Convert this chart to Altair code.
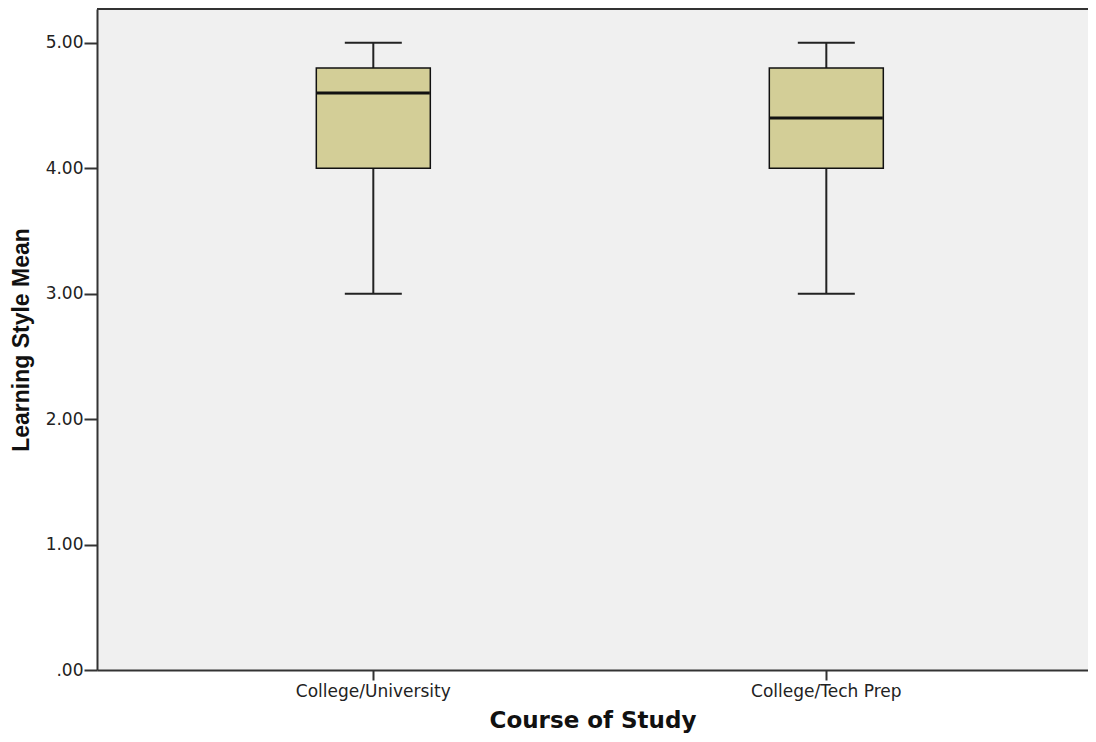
import altair as alt
import pandas as pd

categories = ["College/University", "College/Tech Prep"]
mins = [3.0, 3.0]
q1s = [4.0, 4.0]
medians = [4.6, 4.4]
q3s = [4.8, 4.8]
maxs = [5.0, 5.0]

df = pd.DataFrame({"course": categories, "lo": mins, "q1": q1s,
                   "med": medians, "q3": q3s, "hi": maxs})

W, H = 991, 661

xscale = alt.Scale(domain=categories, paddingInner=0, paddingOuter=0.0938, align=0.586)
xaxis = alt.Axis(title="Course of Study", labelAngle=0, labelFont="DejaVu Sans",
                 labelFontSize=17, labelColor="#222", tickSize=10, tickColor="#333",
                 tickWidth=2, domainColor="#333", domainWidth=2, labelPadding=3,
                 titleFont="DejaVu Sans", titleFontSize=23, titleFontWeight="bold",
                 titleColor="#111", titlePadding=10)
yscale = alt.Scale(domain=[0, 5.27], nice=False, zero=True)
yaxis = alt.Axis(title="Learning Style Mean", values=[0, 1, 2, 3, 4, 5],
                 labelExpr="datum.value == 0 ? '.00' : format(datum.value, '.2f')",
                 grid=False, labelFont="DejaVu Sans", labelFontSize=17, labelColor="#222",
                 tickSize=13, tickColor="#333", tickWidth=2, domainColor="#333",
                 domainWidth=2, labelPadding=1, titleFont="Liberation Sans",
                 titleFontSize=23, titleFontWeight="bold", titleColor="#111",
                 titlePadding=12)

X = alt.X("course:N", scale=xscale, axis=xaxis, sort=categories)

def Y(field):
    return alt.Y(f"{field}:Q", scale=yscale, axis=yaxis)

base = alt.Chart(df)

lower = base.mark_rule(color="#222", strokeWidth=2).encode(x=X, y=Y("lo"), y2="q1:Q")
upper = base.mark_rule(color="#222", strokeWidth=2).encode(x=X, y=Y("q3"), y2="hi:Q")
box = base.mark_bar(size=114, fill="#D3CE97", stroke="#111", strokeWidth=1.5).encode(
    x=X, y=Y("q1"), y2="q3:Q")
median = base.mark_tick(size=113, thickness=3, color="#111", opacity=1).encode(x=X, y=Y("med"))
cap_lo = base.mark_tick(size=57, thickness=2, color="#222", opacity=1).encode(x=X, y=Y("lo"))
cap_hi = base.mark_tick(size=57, thickness=2, color="#222", opacity=1).encode(x=X, y=Y("hi"))
top_border = alt.Chart(pd.DataFrame({"k": [0]})).mark_rule(color="#333", strokeWidth=2).encode(
    x=alt.value(0), x2=alt.value(W), y=alt.value(0))

chart = alt.layer(lower, upper, box, median, cap_lo, cap_hi, top_border).properties(
    width=W, height=H,
    autosize=alt.AutoSizeParams(type="none"),
    padding={"left": 89, "top": 1, "right": 0, "bottom": 64},
    background="white",
).configure_view(fill="#F0F0F0", stroke=None)

chart.save("out.html", embed_options={"renderer": "svg", "actions": False})
